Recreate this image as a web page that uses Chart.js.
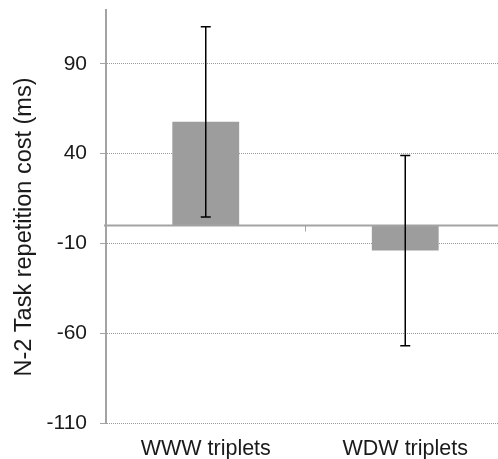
<!DOCTYPE html>
<html>
<head>
<meta charset="utf-8">
<script src="https://cdn.jsdelivr.net/npm/chart.js@4/dist/chart.umd.min.js"></script>
<style>
  html, body { margin: 0; padding: 0; background: #fff; overflow: hidden; }
  #wrap { width: 505px; height: 459px; }
</style>
</head>
<body>
<div id="wrap"><canvas id="chart"></canvas></div>
<script>
const categories = ["WWW triplets", "WDW triplets"];
const costs = [57.7, -14];
const errors = [53, 53];
const yTicks = [-110, -60, -10, 40, 90];
const yMin = -110;
const yMax = 120;
const yTitle = "N-2 Task repetition cost (ms)";

const FAMILY = "'Liberation Sans', Arial, Helvetica, sans-serif";
const AXIS_GRAY = "#a3a3a3";
const TEXT = "#1a1a1a";

// zero line + category tick, error bars, rotated axis title
const overlay = {
  id: "overlay",
  afterDatasetsDraw(chart) {
    const { ctx, chartArea, scales: { x, y } } = chart;
    const y0 = y.getPixelForValue(0);
    ctx.save();
    ctx.strokeStyle = AXIS_GRAY;
    ctx.lineWidth = 2;
    ctx.beginPath();
    ctx.moveTo(chartArea.left - 2, y0);
    ctx.lineTo(chartArea.right, y0);
    ctx.stroke();
    const mid = (x.getPixelForValue(0) + x.getPixelForValue(1)) / 2;
    ctx.lineWidth = 1;
    ctx.beginPath();
    ctx.moveTo(mid, y0);
    ctx.lineTo(mid, y0 + 6);
    ctx.stroke();

    ctx.strokeStyle = "#000";
    ctx.lineWidth = 1.5;
    costs.forEach((v, i) => {
      const px = x.getPixelForValue(i);
      const top = y.getPixelForValue(v + errors[i]);
      const bot = y.getPixelForValue(v - errors[i]);
      ctx.beginPath();
      ctx.moveTo(px, top); ctx.lineTo(px, bot);
      ctx.moveTo(px - 5, top); ctx.lineTo(px + 5, top);
      ctx.moveTo(px - 5, bot); ctx.lineTo(px + 5, bot);
      ctx.stroke();
    });

    // axis title, centred a little below the plot middle as in the original
    ctx.translate(25, 227);
    ctx.rotate(-Math.PI / 2);
    ctx.font = "23.5px " + FAMILY;
    ctx.fillStyle = TEXT;
    ctx.textAlign = "center";
    ctx.textBaseline = "middle";
    ctx.fillText(yTitle, 0, 0);
    ctx.restore();
  }
};

new Chart(document.getElementById("chart"), {
  type: "bar",
  data: {
    labels: categories,
    datasets: [{
      data: costs,
      backgroundColor: "#9d9d9d",
      borderWidth: 0,
      barPercentage: 1,
      categoryPercentage: 0.335
    }]
  },
  options: {
    responsive: true,
    maintainAspectRatio: false,
    animation: false,
    layout: { padding: { top: 10, left: 0, right: 0, bottom: 0 } },
    plugins: { legend: { display: false }, tooltip: { enabled: false } },
    scales: {
      x: {
        grid: { display: false },
        border: { display: false },
        ticks: { font: { family: FAMILY, size: 21.5 }, color: TEXT, padding: 5 },
        afterFit: s => { s.height = 36; }
      },
      y: {
        min: yMin,
        max: yMax,
        afterBuildTicks: s => { s.ticks = yTicks.map(v => ({ value: v })); },
        afterFit: s => { s.width = 106; s.paddingTop = 0; s.paddingBottom = 0; },
        border: { display: true, color: AXIS_GRAY, width: 2, dash: [1, 1] },
        grid: {
          color: "#9a9a9a",
          lineWidth: 1,
          tickLength: 6,
          tickColor: AXIS_GRAY,
          tickWidth: 1
        },
        ticks: { font: { family: FAMILY, size: 21 }, color: TEXT, padding: 13 }
      }
    }
  },
  plugins: [overlay]
});
</script>
</body>
</html>
